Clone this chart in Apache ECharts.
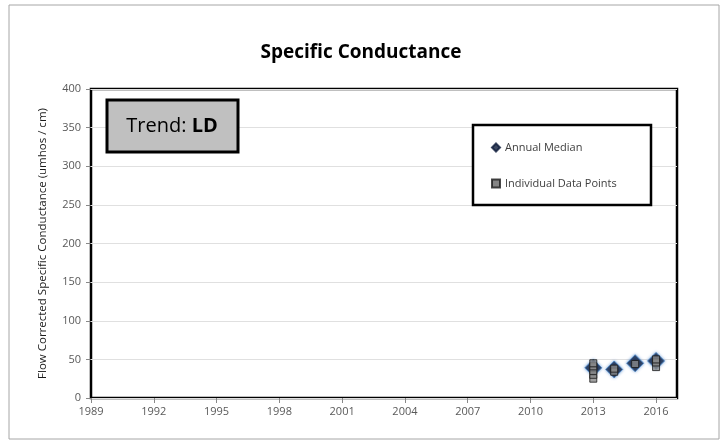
<!DOCTYPE html>
<html>
<head>
<meta charset="utf-8">
<script src="https://cdn.jsdelivr.net/npm/echarts@6/dist/echarts.min.js"></script>
<style>
  html, body { margin: 0; padding: 0; background: #fff; }
  #chart { width: 722px; height: 443px; }
</style>
</head>
<body>
<div id="chart"></div>
<script>
// annual medians
let medianYears = [2013, 2014, 2015, 2016]
let medianValues = [39, 37, 45, 48]

// individual samples
let pointYears = [2013, 2013, 2013, 2013, 2013, 2014, 2014, 2015, 2016, 2016, 2016]
let pointValues = [25, 30, 35, 41, 45, 34, 38, 44, 40, 46, 50]

let fontName = '"Open Sans", "Liberation Sans", sans-serif'

let chart = echarts.init(document.getElementById('chart'))

chart.setOption({
    animation: false,
    backgroundColor: '#fff',
    textStyle: { fontFamily: fontName },
    title: {
        text: 'Specific Conductance',
        left: 'center',
        top: 38,
        textStyle: { fontSize: 19, fontWeight: 'bold', color: '#000', fontFamily: fontName }
    },
    grid: {
        left: 91, right: 45, top: 89, bottom: 45,
        show: true,
        borderColor: '#000',
        borderWidth: 2.5,
        backgroundColor: '#fff'
    },
    legend: {
        left: 486,
        top: 137,
        orient: 'vertical',
        itemGap: 25,
        itemWidth: 8,
        itemHeight: 8,
        z: 20,
        textStyle: { fontSize: 11, color: '#404040', fontFamily: fontName },
        data: [
            { name: 'Annual Median', icon: 'diamond', itemStyle: { color: '#0d1a3a', borderColor: '#0d1a3a' } },
            { name: 'Individual Data Points', icon: 'rect', itemStyle: { color: '#666', borderColor: '#1a1a1a' } }
        ]
    },
    xAxis: {
        type: 'value',
        min: 1989,
        max: 2017,
        interval: 3,
        splitLine: { show: false },
        axisLine: { show: false },
        axisTick: { show: true, length: 5, lineStyle: { color: '#888' } },
        axisLabel: {
            showMaxLabel: false, color: '#595959', fontSize: 11, margin: 8,
            formatter: v => String(v)
        }
    },
    yAxis: {
        type: 'value',
        min: 0,
        max: 400,
        interval: 50,
        name: 'Flow Corrected Specific Conductance (umhos / cm)',
        nameLocation: 'middle',
        nameGap: 42,
        nameTextStyle: { fontSize: 11.5, color: '#1a1a1a', fontWeight: 500, fontFamily: fontName },
        splitLine: { show: true, lineStyle: { color: '#e0e0e0', width: 1 } },
        axisLine: { show: false },
        axisTick: { show: true, length: 5, lineStyle: { color: '#888' } },
        axisLabel: { color: '#595959', fontSize: 11, margin: 10 }
    },
    graphic: [
        {
            type: 'rect',
            shape: { x: 9, y: 5, width: 710, height: 434 },
            style: { fill: 'none', stroke: '#a6a6a6', lineWidth: 1 },
            silent: true
        },
        {
            type: 'rect',
            shape: { x: 473, y: 125, width: 178, height: 80 },
            style: { fill: '#fff', stroke: '#000', lineWidth: 2.5 },
            z: 10,
            silent: true
        },
        {
            type: 'rect',
            shape: { x: 107, y: 100, width: 131, height: 52 },
            style: { fill: '#c0c0c0', stroke: '#000', lineWidth: 3 },
            z: 10,
            silent: true
        },
        {
            type: 'text',
            x: 172,
            y: 126,
            z: 11,
            style: {
                text: '{n|Trend: }{b|LD}',
                align: 'center',
                verticalAlign: 'middle',
                rich: {
                    n: { fontSize: 20, color: '#000', fontFamily: fontName },
                    b: { fontSize: 20, fontWeight: 'bold', color: '#000', fontFamily: fontName }
                }
            },
            silent: true
        }
    ],
    series: [
        {
            name: 'Annual Median',
            type: 'scatter',
            symbol: 'diamond',
            symbolSize: 17,
            itemStyle: {
                color: '#0d1a3a',
                borderColor: '#4a86c8',
                borderWidth: 1,
                shadowColor: 'rgba(70,130,200,0.8)',
                shadowBlur: 3
            },
            data: medianYears.map((y, i) => [y, medianValues[i]]),
            z: 3
        },
        {
            name: 'Individual Data Points',
            type: 'scatter',
            symbol: 'rect',
            symbolSize: 7,
            itemStyle: {
                color: '#8a8a8a',
                borderColor: '#1a1a1a',
                borderWidth: 1
            },
            data: pointYears.map((y, i) => [y, pointValues[i]]),
            z: 4
        }
    ]
})
</script>
</body>
</html>
